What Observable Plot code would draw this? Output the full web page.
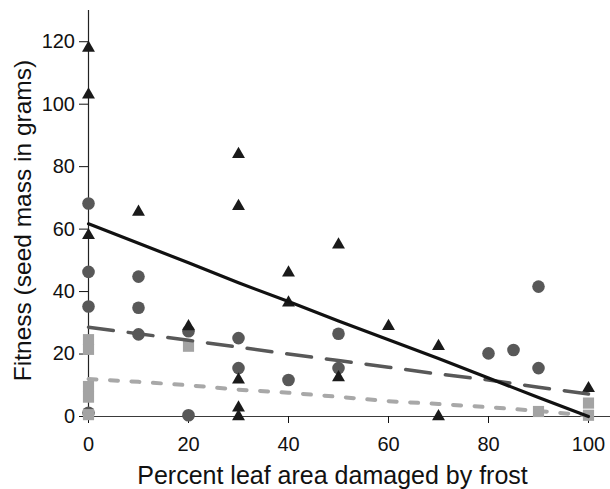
<!DOCTYPE html>
<html>
<head>
<meta charset="utf-8">
<script src="https://cdn.jsdelivr.net/npm/d3@7"></script>
<script src="https://cdn.jsdelivr.net/npm/@observablehq/plot@0.6"></script>
<style>
  html, body { margin: 0; padding: 0; background: #fff; }
  #chart { width: 610px; height: 489px; }
</style>
</head>
<body>
<div id="chart"></div>
<script>
// Tick labels
const xTicks = [0, 20, 40, 60, 80, 100];
const yTicks = [0, 20, 40, 60, 80, 100, 120];
const xTitle = "Percent leaf area damaged by frost";
const yTitle = "Fitness (seed mass in grams)";

// Triangles (black)
const triX = [0, 0, 0, 10, 20, 30, 30, 30, 30, 30, 40, 40, 50, 50, 60, 70, 70, 100];
const triY = [118, 103, 58, 65.5, 28.8, 84, 67.3, 11.8, 2.8, 0, 46, 36.4, 55, 12.5, 28.9, 22.5, 0, 9];

// Circles (dark grey)
const cirX = [0, 0, 0, 0, 10, 10, 10, 20, 20, 30, 30, 40, 50, 50, 80, 85, 90, 90];
const cirY = [68.2, 46.3, 35.2, 1.2, 44.8, 34.8, 26.3, 27.3, 0.4, 25.1, 15.5, 11.7, 26.5, 15.5, 20.2, 21.3, 41.6, 15.5];

// Squares (light grey)
const sqX = [0, 0, 0, 0, 0, 20, 90, 100, 100];
const sqY = [24.6, 21.5, 9.6, 6.2, 0.6, 22.5, 1.6, 4.3, 0.4];

// Fitted lines
const fitX = [0, 10, 20, 30, 40, 50, 60, 70, 80, 90, 100];
const solidY = [61.7, 55.5, 49.2, 42.8, 36.8, 30.6, 24.6, 18.6, 12.3, 6.1, 0];
const dashedY = [28.6, 26.5, 24.4, 22.2, 20.0, 17.9, 15.8, 13.6, 11.7, 9.4, 7.2];
const dottedY = [12.0, 11.1, 10.0, 8.6, 7.6, 6.3, 4.9, 4.0, 3.0, 1.8, 0.3];

const tri = triX.map((x, i) => ({x, y: triY[i]}));
const cir = cirX.map((x, i) => ({x, y: cirY[i]}));
const sq = sqX.map((x, i) => ({x, y: sqY[i]}));
const solid = fitX.map((x, i) => ({x, y: solidY[i]}));
const dashed = fitX.map((x, i) => ({x, y: dashedY[i]}));
const dotted = fitX.map((x, i) => ({x, y: dottedY[i]}));

const font = "'Liberation Sans', Arial, Helvetica, sans-serif";

const chart = Plot.plot({
  width: 610,
  height: 489,
  marginLeft: 88,
  marginRight: 0,
  marginTop: 10,
  marginBottom: 73,
  style: {fontFamily: font, fontSize: "20px", color: "#111", background: "#fff"},
  x: {domain: [0, 104.4], label: null},
  y: {domain: [0, 130], label: null},
  marks: [
    Plot.ruleY([0], {stroke: "#3a3a3a", strokeWidth: 1.2}),
    Plot.ruleX([0], {stroke: "#222", strokeWidth: 1.2}),
    Plot.axisX({ticks: xTicks, tickSize: 7, tickPadding: 13, label: null, fill: "#111", fontSize: 20, fontFamily: font}),
    Plot.axisY({ticks: yTicks, tickSize: 9, tickPadding: 4.5, label: null, fill: "#111", fontSize: 20, fontFamily: font}),
    Plot.line(dotted, {x: "x", y: "y", stroke: "#a8a8a8", strokeWidth: 4, strokeDasharray: "8,13.5"}),
    Plot.dot(cir, {x: "x", y: "y", symbol: "circle", r: 6.3, fill: "#585858", stroke: "none"}),
    Plot.dot(sq, {x: "x", y: "y", symbol: "square", r: 6.3, fill: "#a3a3a3", stroke: "none"}),
    Plot.dot(tri, {x: "x", y: "y", symbol: "triangle", r: 4.8, fill: "#1a1a1a", stroke: "none"}),
    Plot.line(dashed, {x: "x", y: "y", stroke: "#585858", strokeWidth: 3.5, strokeDasharray: "25,15"}),
    Plot.line(solid, {x: "x", y: "y", stroke: "#111", strokeWidth: 3.2}),
    Plot.text([xTitle], {x: 50, frameAnchor: "bottom", lineAnchor: "middle", textAnchor: "middle", dx: -6, dy: 59.5, fontSize: 25, fontFamily: font, fill: "#111"}),
    Plot.text([yTitle], {frameAnchor: "left", lineAnchor: "middle", textAnchor: "middle", dx: -65, dy: 7, rotate: -90, fontSize: 24.5, fontFamily: font, fill: "#111"})
  ]
});
document.getElementById("chart").appendChild(chart);
</script>
</body>
</html>
